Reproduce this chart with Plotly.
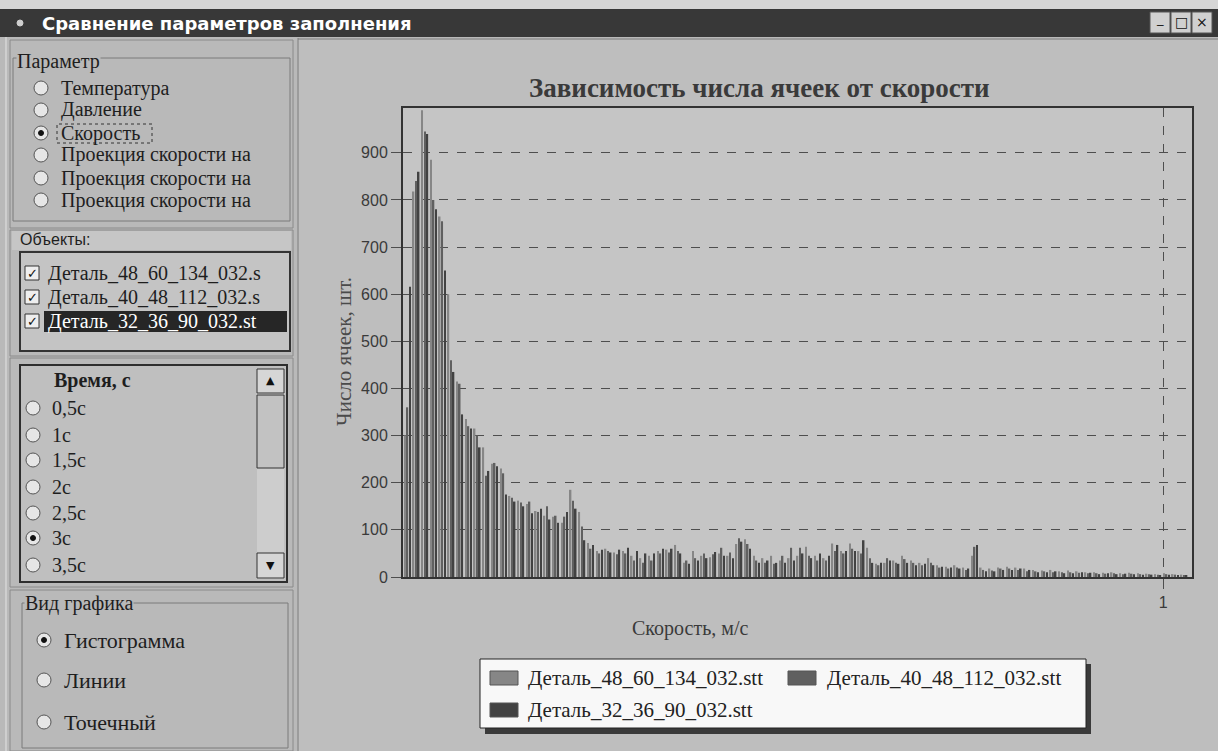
import plotly.graph_objects as go

W, H = 1218, 751

# ---------------- data ----------------
series_names = ["Деталь_48_60_134_032.stt", "Деталь_40_48_112_032.stt", "Деталь_32_36_90_032.stt"]
series_colors = ["#868686", "#606060", "#424242"]

counts_48_60_134 = [
    300, 818, 990, 885, 765, 600, 415, 335, 315, 275,
    240, 230, 172, 162, 155, 140, 130, 128, 115, 185,
    138, 72, 55, 60, 52, 55, 45, 40, 45, 55,
    58, 68, 30, 55, 45, 42, 50, 45, 70, 80,
    45, 40, 45, 35, 40, 45, 64, 45, 40, 71,
    55, 71, 55, 62, 28, 30, 35, 45, 35, 30,
    40, 25, 22, 25, 20, 45, 20, 18, 20, 22,
    20, 18, 15, 14, 15, 12, 14, 12, 10, 10,
    9, 10, 8, 9, 8, 7, 6, 8, 6, 5]
counts_40_48_112 = [
    360, 840, 945, 800, 755, 460, 410, 320, 300, 215,
    242, 220, 168, 158, 160, 138, 150, 130, 128, 162,
    107, 60, 50, 55, 48, 50, 35, 30, 35, 50,
    52, 55, 35, 40, 50, 48, 62, 52, 82, 70,
    35, 30, 28, 45, 62, 62, 45, 35, 35, 55,
    50, 60, 50, 40, 25, 40, 30, 38, 30, 25,
    30, 20, 18, 20, 15, 64, 15, 14, 18, 18,
    15, 12, 12, 12, 10, 10, 10, 9, 8, 8,
    7, 8, 6, 7, 6, 6, 5, 6, 5, 4]
counts_32_36_90 = [
    616, 860, 940, 780, 650, 435, 345, 315, 275, 225,
    235, 175, 160, 150, 135, 145, 122, 115, 138, 145,
    78, 68, 58, 52, 58, 62, 55, 50, 50, 60,
    60, 50, 28, 35, 40, 53, 45, 40, 75, 60,
    30, 35, 30, 30, 35, 50, 40, 50, 45, 68,
    55, 55, 78, 30, 30, 35, 28, 30, 25, 28,
    25, 22, 20, 18, 18, 68, 12, 12, 15, 15,
    18, 15, 10, 10, 12, 8, 8, 10, 9, 6,
    8, 6, 7, 6, 5, 5, 4, 5, 4, 3]

speed_bin_width = 0.01148
speed_bins = [round(speed_bin_width * (i + 0.5), 5) for i in range(len(counts_48_60_134))]
y_tick_values = [0, 100, 200, 300, 400, 500, 600, 700, 800, 900]
x_tick_values = [1]
x_tick_labels = ["1"]

param_items = ["Температура", "Давление", "Скорость", "Проекция скорости на", "Проекция скорости на", "Проекция скорости на"]
object_items = ["Деталь_48_60_134_032.s", "Деталь_40_48_112_032.s", "Деталь_32_36_90_032.st"]
time_items = ["0,5с", "1с", "1,5с", "2с", "2,5с", "3с", "3,5с"]
kind_items = ["Гистограмма", "Линии", "Точечный"]

SERIF = "Liberation Serif, Times New Roman, serif"
SANS = "Liberation Sans, Arial, sans-serif"

fig = go.Figure()
for name, vals, col in zip(series_names, [counts_48_60_134, counts_40_48_112, counts_32_36_90], series_colors):
    fig.add_trace(go.Bar(x=speed_bins, y=vals, name=name,
                         marker=dict(color=col, line=dict(width=0)), showlegend=False))

shapes = []
annots = []

def px(x):
    return x / W

def py(y):
    return 1 - y / H

def rect(x0, y0, x1, y1, fill, line=None, lw=0, layer="below"):
    shapes.append(dict(type="rect", xref="paper", yref="paper", x0=px(x0), x1=px(x1),
                       y0=py(y1), y1=py(y0), fillcolor=fill, layer=layer,
                       line=dict(color=line if line else "rgba(0,0,0,0)", width=lw)))

def line(x0, y0, x1, y1, color, lw=1, dash="solid", layer="below"):
    shapes.append(dict(type="line", xref="paper", yref="paper", x0=px(x0), x1=px(x1),
                       y0=py(y0), y1=py(y1), layer=layer, line=dict(color=color, width=lw, dash=dash)))

def circle(cx, cy, r, fill, line_c, lw=1, layer="below"):
    shapes.append(dict(type="circle", xref="paper", yref="paper", x0=px(cx - r), x1=px(cx + r),
                       y0=py(cy + r), y1=py(cy - r), fillcolor=fill, layer=layer,
                       line=dict(color=line_c, width=lw)))

def text(x, y, s, size, family=SERIF, color="#1e1e1e", anchor="left", bg=None, angle=0):
    a = dict(xref="paper", yref="paper", x=px(x), y=py(y), text=s, showarrow=False,
             xanchor=anchor, yanchor="middle", textangle=angle,
             font=dict(size=size, family=family, color=color))
    if bg:
        a["bgcolor"] = bg
        a["borderpad"] = 0
    annots.append(a)

def radio(cx, cy, selected=False):
    circle(cx, cy, 7, "#e6e6e6", "#555555", 1)
    if selected:
        circle(cx, cy, 2.5, "#111111", "#111111", 1)

PANEL = "#b9b9b9"
CHART_BG = "#bebebe"

# ---------- window chrome ----------
rect(0, 0, W, 9, "#d6d6d6")
rect(0, 9, W, 37, "#383838")
circle(20, 23, 3, "#cfcfcf", "#cfcfcf")
text(40, 24, "<b>Сравнение параметров заполнения</b>", 18, "DejaVu Sans, Verdana, sans-serif", "#ffffff")
for bx, sym in [(1150, "_"), (1171, "□"), (1192, "×")]:
    rect(bx, 12, bx + 20, 33, "#d0d0d0", "#555555", 1)
    text(bx + 10, 22.5 if sym != "_" else 19, sym, 14 if sym != "_" else 13, "DejaVu Sans, sans-serif", "#111111", "center")

# ---------- left panel ----------
rect(0, 37, 296, H, PANEL)
line(6, 37, 6, H, "#e4e4e4", 1)
# Parameter group
rect(10, 40, 293, 228, PANEL, "#8a8a8a", 1)
rect(13, 58, 290, 221, "rgba(0,0,0,0)", "#7a7a7a", 1)
text(16, 62, "Параметр", 20, SERIF, "#1e1e1e", bg=PANEL)
for i, (lab, yy) in enumerate(zip(param_items, [88, 110, 133, 155, 178, 200])):
    radio(41, yy, selected=(i == 2))
    text(59, yy, lab, 20, SERIF)
shapes.append(dict(type="rect", xref="paper", yref="paper", x0=px(57), x1=px(152), y0=py(143), y1=py(124),
                   line=dict(color="#333333", width=1, dash="dot"), layer="below"))

# Objects group
rect(10, 230, 293, 356, PANEL, "#8a8a8a", 1)
rect(12, 231, 291, 250, "#c6c6c6")
text(18, 240, "Объекты:", 16, SANS, "#1e1e1e")
rect(20, 252, 290, 351, "#c4c4c4", "#333333", 2)
for i, (lab, yy) in enumerate(zip(object_items, [273, 297, 321])):
    if i == 2:
        rect(44, 311, 287, 332, "#262626")
    rect(25, yy - 7, 39, yy + 7, "#eeeeee", "#333333", 1)
    text(32, yy, "✓", 13, "DejaVu Sans, sans-serif", "#111111", "center")
    text(46, yy, lab, 20, SERIF, "#ffffff" if i == 2 else "#1e1e1e")

# Time group
rect(10, 358, 293, 587, PANEL, "#8a8a8a", 1)
rect(20, 365, 287, 582, "#bfbfbf", "#2e2e2e", 2)
text(92, 380, "<b>Время, с</b>", 20, SERIF, "#1e1e1e", "center")
rect(257, 369, 284, 579, "#cdcdcd")
rect(257, 369, 284, 393, "#d6d6d6", "#333333", 1)
text(270.5, 381, "▲", 11, "DejaVu Sans, sans-serif", "#111111", "center")
rect(257, 395, 284, 468, "#c2c2c2", "#333333", 1)
rect(257, 553, 284, 578, "#d6d6d6", "#333333", 1)
text(270.5, 565, "▼", 11, "DejaVu Sans, sans-serif", "#111111", "center")
for i, (lab, yy) in enumerate(zip(time_items, [408, 435, 460, 487, 513, 538, 565])):
    radio(33, yy, selected=(i == 5))
    text(50, yy, lab, 20, SERIF)

# Chart kind group
rect(10, 590, 293, H, PANEL, "#8a8a8a", 1)
rect(22, 603, 288, 748, "rgba(0,0,0,0)", "#7a7a7a", 1)
text(24, 603, "Вид графика", 20, SERIF, "#1e1e1e", bg=PANEL)
for i, (lab, yy) in enumerate(zip(kind_items, [640, 680, 722])):
    radio(44, yy, selected=(i == 0))
    text(62, yy, lab, 22, SERIF)

# ---------- chart panel ----------
rect(297, 38, W, H, CHART_BG)
line(298, 38, 298, H, "#7a7a7a", 1)
line(298, 39, W, 39, "#7a7a7a", 1)
rect(403, 108, 1192, 577, "#c5c5c5")

# chart texts
text(759, 88, "<b>Зависимость числа ячеек от скорости</b>", 27, SERIF, "#3a3a3a", "center")
text(344, 352, "Число ячеек, шт.", 21, SERIF, "#4a4a4a", "center", angle=-90)
text(690, 628, "Скорость, м/с", 20, SERIF, "#3a3a3a", "center")

# legend box
rect(485, 664, 1091, 734, "#3a3a3a")
rect(480, 659, 1086, 728, "#f8f8f8", "#222222", 1)
for (sx, sy, tx), name, col in zip([(490, 678, 526), (788, 678, 825), (490, 710, 526)], series_names, series_colors):
    rect(sx, sy - 7, sx + 28, sy + 7, col, "#555555", 1)
    text(tx, sy, name, 21, SERIF, "#222222")

fig.update_layout(
    width=W, height=H,
    margin=dict(l=0, r=0, t=0, b=0),
    paper_bgcolor=PANEL,
    plot_bgcolor="rgba(0,0,0,0)",
    barmode="group", bargap=0.12, bargroupgap=0.4,
    showlegend=False,
    shapes=shapes,
    annotations=annots,
    xaxis=dict(domain=[403 / W, 1192 / W], range=[0, 1.038], tickvals=x_tick_values, ticktext=x_tick_labels,
               showgrid=True, gridcolor="#4e4e4e", griddash="dash", gridwidth=1,
               ticks="outside", ticklen=10, tickcolor="#4e4e4e",
               showline=True, mirror=True, linecolor="#333333", linewidth=2, zeroline=False,
               tickfont=dict(size=16, family=SANS, color="#3a3a3a"), automargin=False),
    yaxis=dict(domain=[1 - 577 / H, 1 - 108 / H], range=[0, 995], tickvals=y_tick_values,
               showgrid=True, gridcolor="#4e4e4e", griddash="dash", gridwidth=1,
               ticks="outside", ticklen=10, tickcolor="#4e4e4e",
               showline=True, mirror=True, linecolor="#333333", linewidth=2, zeroline=False,
               tickfont=dict(size=16, family=SANS, color="#3a3a3a"), automargin=False),
)

fig.write_html("out.html", config={"displayModeBar": False},
               post_script="document.body.style.margin='0';document.body.style.overflow='hidden';")
